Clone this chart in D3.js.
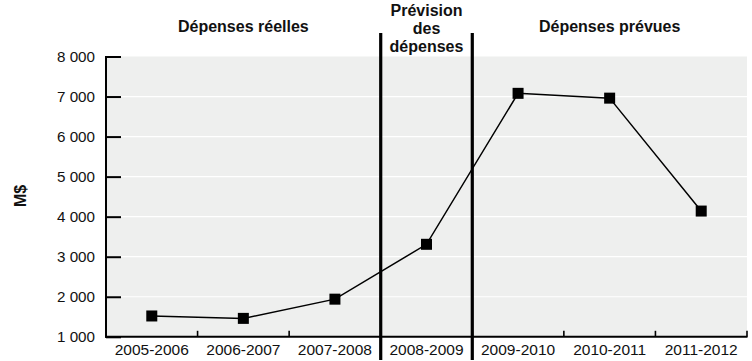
<!DOCTYPE html>
<html><head><meta charset="utf-8">
<script src="https://cdn.jsdelivr.net/npm/d3@7"></script>
<style>body{margin:0;background:#fff;} svg{display:block;font-family:"Liberation Sans",Arial,Helvetica,sans-serif;}</style>
</head><body>
<script>
const categories = ["2005-2006","2006-2007","2007-2008","2008-2009","2009-2010","2010-2011","2011-2012"];
const values = [1520, 1460, 1940, 3310, 7080, 6960, 4140];
const yTicks = [1000,2000,3000,4000,5000,6000,7000,8000];
const sectionLabels = [["Dépenses réelles"],["Prévision","des","dépenses"],["Dépenses prévues"]];
const sectionRanges = [[0,2],[3,3],[4,6]];

const W=752,H=361;
const svg=d3.select("body").append("svg").attr("width",W).attr("height",H);
const x0=106,x1=747,yTop=56.5,yBot=336.8;
const x=d3.scaleBand().domain(categories).range([x0,x1]);
const y=d3.scaleLinear().domain([1000,8000]).range([yBot,yTop]);

svg.append("rect").attr("x",x0).attr("y",yTop).attr("width",x1-x0).attr("height",yBot-yTop).attr("fill","#eeefee");
// gridlines
svg.selectAll(".grid").data(yTicks.filter(d=>d>1000&&d<8000)).enter().append("line")
 .attr("x1",x0).attr("x2",x1).attr("y1",d=>y(d)).attr("y2",d=>y(d)).attr("stroke","#fff").attr("stroke-width",1.2);

// left axis
const fmt=d=>d3.format(",")(d).replace(/,/g," ");
const ya=svg.append("g").attr("transform",`translate(${x0},0)`)
 .call(d3.axisRight(y).tickValues(yTicks).tickSize(15).tickFormat(""));
ya.select(".domain").remove();
ya.selectAll("line").attr("stroke","#000").attr("stroke-width",2);
svg.append("line").attr("x1",x0).attr("x2",x0).attr("y1",yTop-0.5).attr("y2",yBot+1).attr("stroke","#000").attr("stroke-width",2);
svg.selectAll(".yl").data(yTicks).enter().append("text")
 .attr("x",95).attr("y",d=>y(d)+5.5).attr("text-anchor","end").attr("font-size",15.2).attr("fill","#111").text(fmt);

// bottom axis
svg.append("line").attr("x1",x0-1).attr("x2",x1+0.5).attr("y1",yBot).attr("y2",yBot).attr("stroke","#000").attr("stroke-width",2);
const bounds=categories.map((c,i)=>x(c)).concat([x1]).slice(1);
svg.selectAll(".xt").data(bounds).enter().append("line")
 .attr("x1",d=>d).attr("x2",d=>d).attr("y1",yBot).attr("y2",yBot-6).attr("stroke","#000").attr("stroke-width",1.6);
svg.selectAll(".xl").data(categories).enter().append("text")
 .attr("x",d=>x(d)+x.bandwidth()/2).attr("y",355).attr("text-anchor","middle").attr("font-size",15.5).attr("fill","#111").text(d=>d);

// section dividers
[3,4].forEach(i=>{
  const xx=x(categories[i]);
  svg.append("line").attr("x1",xx).attr("x2",xx).attr("y1",33).attr("y2",360).attr("stroke","#000").attr("stroke-width",3.2);
});

// section headers
sectionLabels.forEach((lines,k)=>{
  const r=sectionRanges[k];
  const cx=(x(categories[r[0]])+x(categories[r[1]])+x.bandwidth())/2;
  const startY = lines.length===1?32:16;
  lines.forEach((t,j)=>{
    svg.append("text").attr("x",cx).attr("y",startY+j*18).attr("text-anchor","middle")
     .attr("font-size",16).attr("font-weight","bold").attr("fill","#111").text(t);
  });
});

// y label
svg.append("text").attr("transform","translate(26,196) rotate(-90)").attr("text-anchor","middle")
 .attr("font-size",16).attr("font-weight","bold").attr("fill","#111").text("M$");

// line + markers
const cxf=(d,i)=>x(categories[i])+x.bandwidth()/2;
svg.append("path").datum(values).attr("fill","none").attr("stroke","#000").attr("stroke-width",1.5)
 .attr("d",d3.line().x(cxf).y(d=>y(d)));
svg.selectAll(".pt").data(values).enter().append("rect")
 .attr("x",(d,i)=>cxf(d,i)-5.5).attr("y",d=>y(d)-5.5).attr("width",11).attr("height",11).attr("fill","#000");
</script>
</body></html>
